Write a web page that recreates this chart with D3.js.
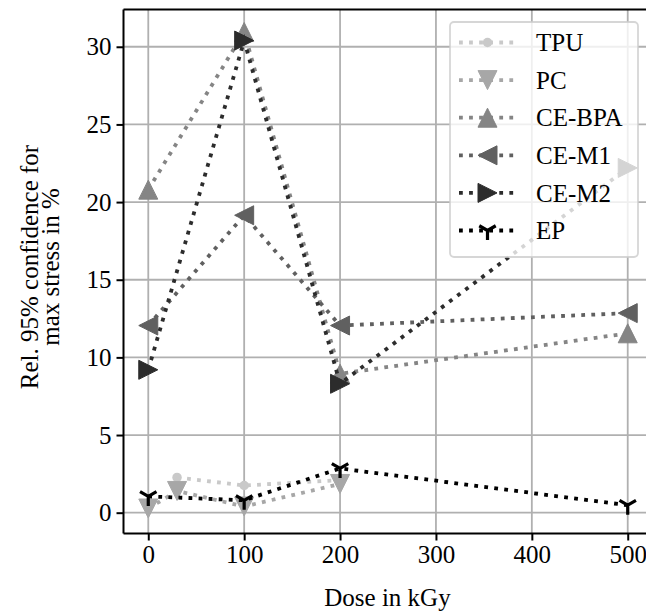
<!DOCTYPE html>
<html>
<head>
<meta charset="utf-8">
<script src="https://cdn.jsdelivr.net/npm/d3@7"></script>
<style>
  html, body { margin: 0; padding: 0; background: #fff; }
  svg { display: block; }
  text { font-family: "Liberation Serif", "Times New Roman", serif; fill: #000; }
</style>
</head>
<body>
<svg id="chart" width="646" height="614"></svg>
<script>
// ---- data ----
const seriesNames = ["TPU", "PC", "CE-BPA", "CE-M1", "CE-M2", "EP"];
const doseTPU = [30, 100, 200];
const valTPU = [2.27, 1.75, 2.1];
const dosePC = [0, 30, 100, 200];
const valPC = [0.27, 1.4, 0.4, 1.85];
const doseCE = [0, 100, 200, 500];
const valCEBPA = [20.8, 30.95, 8.95, 11.55];
const valCEM1 = [12.05, 19.15, 12.05, 12.85];
const valCEM2 = [9.2, 30.4, 8.3, 22.2];
const valEP = [1.05, 0.8, 2.85, 0.48];
const xTicks = [0, 100, 200, 300, 400, 500];
const yTicks = [0, 5, 10, 15, 20, 25, 30];
const xLabel = "Dose in kGy";
const yLabelLines = ["Rel. 95% confidence for", "max stress in %"];

const colors = ["#c9c9c9", "#a7a7a7", "#858585", "#606060", "#2c2c2c", "#000000"];
const markers = ["point", "tridown", "triup", "trileft", "triright", "tri_down"];

const series = [
  { name: seriesNames[0], x: doseTPU, y: valTPU },
  { name: seriesNames[1], x: dosePC, y: valPC },
  { name: seriesNames[2], x: doseCE, y: valCEBPA },
  { name: seriesNames[3], x: doseCE, y: valCEM1 },
  { name: seriesNames[4], x: doseCE, y: valCEM2 },
  { name: seriesNames[5], x: doseCE, y: valEP }
].map((s, i) => ({ ...s, color: colors[i], marker: markers[i],
  pts: s.x.map((d, j) => [d, s.y[j]]) }));

// ---- layout ----
const svg = d3.select("#chart");
const L = 123.5, T = 9.5, B = 533.5, R = 652;
const x = d3.scaleLinear().domain([-25, 525]).range([124.3, 651.7]);
const y = d3.scaleLinear().domain([-1.34, 32.4]).range([B, T]);
const FS = 25;

// grid
const grid = svg.append("g");
grid.selectAll("line.gx").data(xTicks).join("line")
  .attr("x1", d => x(d)).attr("x2", d => x(d)).attr("y1", T).attr("y2", B)
  .attr("stroke", "#b0b0b0").attr("stroke-width", 1.8);
grid.selectAll("line.gy").data(yTicks).join("line")
  .attr("x1", L).attr("x2", R).attr("y1", d => y(d)).attr("y2", d => y(d))
  .attr("stroke", "#b0b0b0").attr("stroke-width", 1.8);

// marker path generator
const MS = 19;
function markerPath(type) {
  const h = MS / 2;
  switch (type) {
    case "triup": return `M0,${-h}L${-h},${h}L${h},${h}Z`;
    case "tridown": return `M0,${h}L${-h},${-h}L${h},${-h}Z`;
    case "trileft": return `M${-h},0L${h},${-h}L${h},${h}Z`;
    case "triright": return `M${h},0L${-h},${-h}L${-h},${h}Z`;
    case "tri_down": return `M0,0L0,${h}M0,0L${0.866*h},${-0.5*h}M0,0L${-0.866*h},${-0.5*h}`;
  }
  return null;
}
function drawMarker(g, s, px, py) {
  if (s.marker === "point") {
    g.append("circle").attr("cx", px).attr("cy", py).attr("r", MS / 4)
      .attr("fill", s.color);
  } else if (s.marker === "tri_down") {
    g.append("path").attr("transform", `translate(${px},${py})`)
      .attr("d", markerPath(s.marker)).attr("fill", "none")
      .attr("stroke", s.color).attr("stroke-width", 3.2);
  } else {
    g.append("path").attr("transform", `translate(${px},${py})`)
      .attr("d", markerPath(s.marker)).attr("fill", s.color)
      .attr("stroke", s.color).attr("stroke-width", 1).attr("stroke-linejoin", "miter");
  }
}

const LW = 3.8;
const dash = `${LW} ${LW * 1.65}`;
const line = d3.line().x(d => x(d[0])).y(d => y(d[1]));

const plot = svg.append("g");
series.forEach(s => {
  const g = plot.append("g");
  g.append("path").attr("d", line(s.pts)).attr("fill", "none")
    .attr("stroke", s.color).attr("stroke-width", LW)
    .attr("stroke-dasharray", dash).attr("stroke-linecap", "butt");
  s.pts.forEach(p => drawMarker(g, s, x(p[0]), y(p[1])));
});

// axes frame
svg.append("line").attr("x1", L).attr("x2", L).attr("y1", T).attr("y2", B)
  .attr("stroke", "#000").attr("stroke-width", 2);
svg.append("line").attr("x1", L).attr("x2", R).attr("y1", B).attr("y2", B)
  .attr("stroke", "#000").attr("stroke-width", 2);
svg.append("line").attr("x1", L).attr("x2", R).attr("y1", T).attr("y2", T)
  .attr("stroke", "#000").attr("stroke-width", 2);

// axes with d3
const xAxis = svg.append("g").attr("transform", `translate(0,${B})`)
  .call(d3.axisBottom(x).tickValues(xTicks).tickSize(7).tickPadding(5).tickFormat(d3.format("d")));
const yAxis = svg.append("g").attr("transform", `translate(${L},0)`)
  .call(d3.axisLeft(y).tickValues(yTicks).tickSize(7).tickPadding(5).tickFormat(d3.format("d")));
[xAxis, yAxis].forEach(a => {
  a.select(".domain").remove();
  a.selectAll(".tick line").attr("stroke", "#000").attr("stroke-width", 2);
  a.selectAll(".tick text").attr("font-family", "Liberation Serif").attr("font-size", FS).attr("fill", "#000");
});

// axis labels
svg.append("text").attr("x", x(250) - 0.5).attr("y", 606)
  .attr("text-anchor", "middle").attr("font-size", FS).text(xLabel);
const yl = svg.append("g").attr("transform", `translate(0,267) rotate(-90)`);
yl.append("text").attr("x", 0).attr("y", 38).attr("text-anchor", "middle")
  .attr("font-size", FS).text(yLabelLines[0]);
yl.append("text").attr("x", 0).attr("y", 59).attr("text-anchor", "middle")
  .attr("font-size", FS).text(yLabelLines[1]);

// legend
const lg = svg.append("g");
lg.append("rect").attr("x", 450).attr("y", 22).attr("width", 188).attr("height", 235)
  .attr("rx", 4).attr("fill", "#fff").attr("fill-opacity", 0.8)
  .attr("stroke", "#cccccc").attr("stroke-opacity", 0.8).attr("stroke-width", 1.8);
series.forEach((s, i) => {
  const cy = 42.5 + i * 37.6;
  lg.append("line").attr("x1", 459).attr("x2", 515).attr("y1", cy).attr("y2", cy)
    .attr("stroke", s.color).attr("stroke-width", LW).attr("stroke-dasharray", dash);
  drawMarker(lg, s, 487.5, cy);
  lg.append("text").attr("x", 536).attr("y", cy).attr("dy", "0.35em")
    .attr("font-size", FS).text(s.name);
});
</script>
</body>
</html>
